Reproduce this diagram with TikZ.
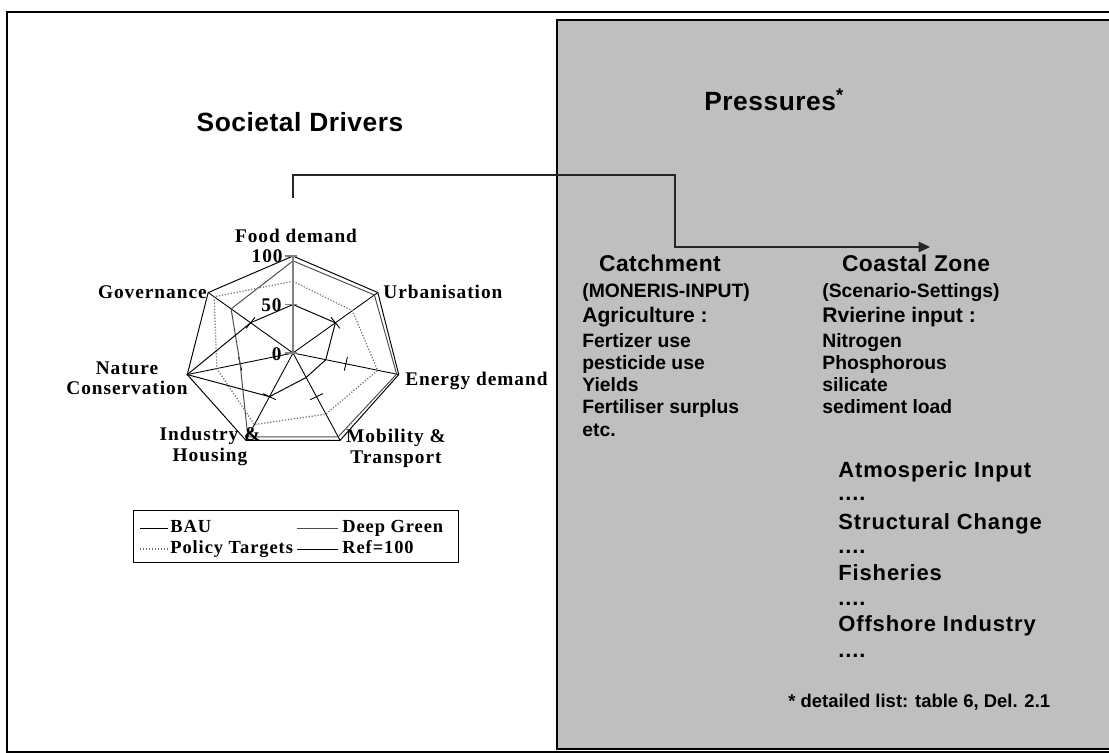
\documentclass[tikz,border=0pt]{standalone}
\usepackage{fontspec}
\setmainfont{Liberation Serif}
\newfontfamily\headfont[LetterSpace=2]{Liberation Sans}
\newfontfamily\listfont{Liberation Sans}
\newfontfamily\spacedfont[LetterSpace=4]{Liberation Sans}
\newfontfamily\chartfont[LetterSpace=5]{Liberation Serif}
\usetikzlibrary{arrows.meta}

\begin{document}
\begin{tikzpicture}[
        x=0.02cm, y=-0.02cm,
        % text styles
        title/.style={font=\headfont\bfseries\fontsize{15}{18}\selectfont, inner sep=0pt},
        colhead/.style={font=\headfont\bfseries\fontsize{13}{15}\selectfont, inner sep=0pt},
        subhead/.style={font=\listfont\bfseries\fontsize{12}{14}\selectfont, inner sep=0pt, anchor=base west},
        item/.style={font=\listfont\bfseries\fontsize{11}{13}\selectfont, inner sep=0pt, anchor=base west},
        bigitem/.style={font=\spacedfont\bfseries\fontsize{12.5}{15}\selectfont, inner sep=0pt, anchor=base west},
        axlbl/.style={font=\chartfont\bfseries\fontsize{11}{11.9}\selectfont, inner sep=0pt, align=center},
        leglbl/.style={font=\chartfont\bfseries\fontsize{10.5}{12}\selectfont, inner sep=0pt, anchor=base west},
        % line styles
        frame/.style={draw=black, line width=0.9pt},
        panel/.style={fill=black!25, draw=black, line width=0.6pt},
        spoke/.style={draw=black, line width=0.5pt},
        valaxis/.style={draw=black!50, line width=1pt},
        refline/.style={draw=black, line width=0.55pt},
        bauline/.style={draw=black, line width=0.55pt},
        greenline/.style={draw=black!70, line width=0.55pt},
        policyline/.style={draw=black!55, line width=0.7pt, densely dotted},
        conn/.style={-{Triangle[length=6.5pt,width=6pt]}, draw=black!85, line width=0.6pt}
    ]
    \useasboundingbox (0,0) rectangle (1109,753);
    \clip (0,0) rectangle (1109,753);

    % outer frame and grey panel
    \draw[frame] (7,12) rectangle (1130,752);
    \draw[panel] (557,20) rectangle (1130,749);

    % titles
    \node[title, anchor=base] (drivers) at (300,132) {Societal Drivers};
    \node[title, anchor=base west] (press) at (704,111) {Pressures\textsuperscript{*}};

    % radar chart
    \begin{scope}[shift={(293,353)}, x=0.0217cm, y=0.0194cm]
        \coordinate (ctr) at (0,0);
        \foreach \k [evaluate=\k as \ang using 90-\k*360/7,
                     evaluate=\k as \nrm using 180-\k*360/7] in {1,...,6} {
            \draw[spoke] (ctr) -- (\ang:100);
            \draw[spoke] ([shift={(\nrm:4pt)}]\ang:50) -- ([shift={(\nrm:-4pt)}]\ang:50);
        }
        % series
        \foreach \v [count=\k from 0] in {100,100,100,100,100,100,100}
            \coordinate (ref\k) at ({90-\k*360/7}:\v);
        \foreach \v [count=\k from 0] in {95,96,98,96,96,50,73}
            \coordinate (grn\k) at ({90-\k*360/7}:\v);
        \foreach \v [count=\k from 0] in {74,70,80,70,82,72,93}
            \coordinate (pol\k) at ({90-\k*360/7}:\v);
        \foreach \v [count=\k from 0] in {50,50,31,28,50,100,50}
            \coordinate (bau\k) at ({90-\k*360/7}:\v);
        \draw[refline] (ref0) -- (ref1) -- (ref2) -- (ref3) -- (ref4) -- (ref5) -- (ref6) -- cycle;
        \draw[greenline] (grn0) -- (grn1) -- (grn2) -- (grn3) -- (grn4) -- (grn5) -- (grn6) -- cycle;
        \draw[policyline] (pol0) -- (pol1) -- (pol2) -- (pol3) -- (pol4) -- (pol5) -- (pol6) -- cycle;
        \draw[bauline] (bau0) -- (bau1) -- (bau2) -- (bau3) -- (bau4) -- (bau5) -- (bau6) -- cycle;
        % value axis
        \draw[valaxis] (ctr) -- (90:100);
        \foreach \v in {0,50,100}
            \draw[valaxis] ([xshift=-4.5pt]90:\v) -- ([xshift=2pt]90:\v);
    \end{scope}

    % axis labels
    \node[axlbl, anchor=base east] (v100) at (283,263) {100};
    \node[axlbl, anchor=base east] (v50) at (282,312) {50};
    \node[axlbl, anchor=base east] (v0) at (282,360) {0};
    \node[axlbl, anchor=base] (food) at (296,243) {Food demand};
    \node[axlbl, anchor=base west] (urban) at (383,298) {Urbanisation};
    \node[axlbl, anchor=base west] (energy) at (405,385) {Energy demand};
    \node[axlbl, anchor=north] (mobil) at (396,429) {Mobility \&\\Transport};
    \node[axlbl, anchor=north] (indus) at (210,427) {Industry \&\\Housing};
    \node[axlbl, anchor=north] (nature) at (127,361) {Nature\\Conservation};
    \node[axlbl, anchor=base east] (gov) at (207,298) {Governance};

    % legend
    \node[draw=black, line width=0.6pt, minimum width=6.5cm, minimum height=1.04cm,
          anchor=north west, inner sep=0pt] (legend) at (133,510) {};
    \draw[bauline] (140,528) -- (168,528);
    \node[leglbl] (legbau) at (170,532) {BAU};
    \draw[greenline] (297,528) -- (338,528);
    \node[leglbl] (leggrn) at (342,532) {Deep Green};
    \draw[policyline] (140,549) -- (168,549);
    \node[leglbl] (legpol) at (170,553) {Policy Targets};
    \draw[refline] (297,549) -- (338,549);
    \node[leglbl] (legref) at (342,553) {Ref=100};

    % connector drivers -> pressures
    \coordinate (drvtop) at (293,198);
    \coordinate (elbow) at (675,175);
    \coordinate (tip) at (930,247);
    \draw[conn] (drvtop) |- (elbow) |- (tip);

    % pressures columns
    \node[colhead, anchor=base] (catch) at (660,272) {Catchment};
    \node[colhead, anchor=base] (coast) at (916,272) {Coastal Zone};
    \node[item] (moneris) at (582,297) {(MONERIS-INPUT)};
    \node[item] (scen) at (822,297) {(Scenario-Settings)};
    \node[subhead] (agri) at (582,322) {Agriculture :};
    \node[subhead] (river) at (822,322) {Rvierine input :};
    \foreach \txt [count=\i] in {Fertizer use, pesticide use, Yields, Fertiliser surplus, etc.}
        \node[item] (agri\i) at (582,{347+22.3*(\i-1)}) {\txt};
    \foreach \txt [count=\i] in {Nitrogen, Phosphorous, silicate, sediment load}
        \node[item] (river\i) at (822,{347+22.3*(\i-1)}) {\txt};

    \foreach \txt/\yy [count=\i] in {Atmosperic Input/477, Structural Change/529, Fisheries/580, Offshore Industry/631}
        \node[bigitem] (pres\i) at (838,\yy) {\txt};
    \foreach \yy [count=\i] in {500,553,605,657}
        \node[bigitem] (dots\i) at (838,\yy) {....};

    \node[item, font=\listfont\bfseries\fontsize{10.5}{12}\selectfont] (foot) at (788,707) {* detailed list: table 6, Del. 2.1};
\end{tikzpicture}
\end{document}
